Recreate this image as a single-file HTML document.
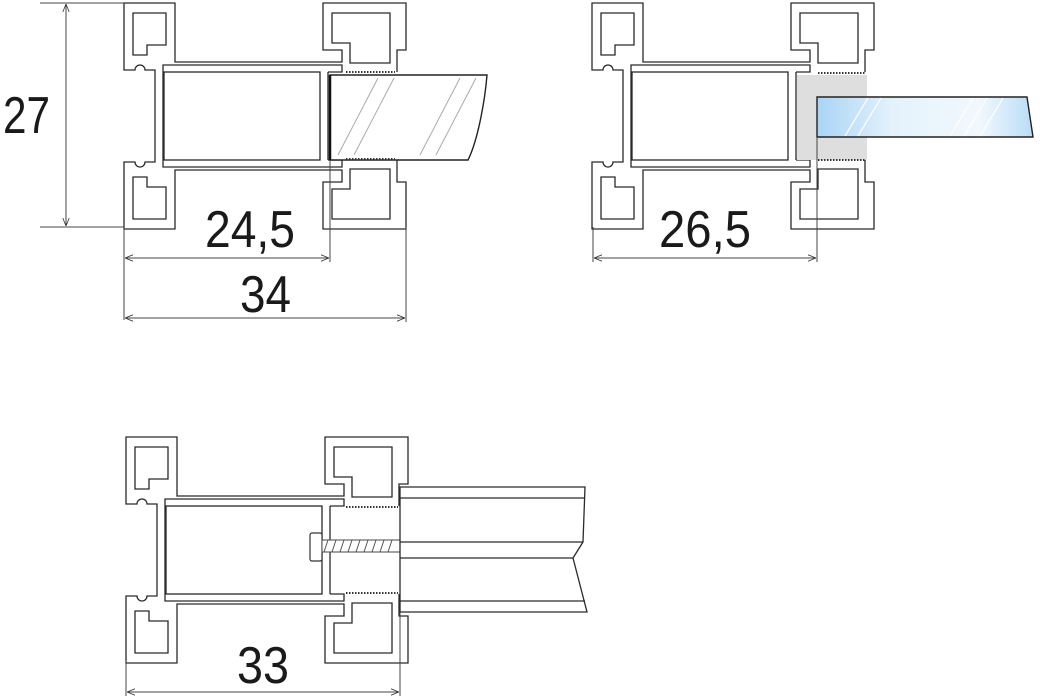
<!DOCTYPE html>
<html><head><meta charset="utf-8"><style>
html,body{margin:0;padding:0;background:#fff;}
svg{display:block;}
text{font-family:"Liberation Sans",sans-serif;fill:#1a1a1a;}
</style></head><body>
<svg width="1040" height="700" viewBox="0 0 1040 700" xmlns="http://www.w3.org/2000/svg">
<defs>
<linearGradient id="bg" x1="0" x2="1" y1="0" y2="0">
<stop offset="0" stop-color="#a9d4f5"/><stop offset="0.35" stop-color="#e4f2fc"/><stop offset="0.75" stop-color="#f2f8fd"/><stop offset="1" stop-color="#b9dcf6"/>
</linearGradient>
<g id="half" fill="none" stroke="#2a2a2a" stroke-width="1.3">
  <path d="M31,113 V67 H21 A5,5 0 0 0 11,67 H0 V0 H51 V59 H218 V47 H199 V0 H282 V47 H273 V69"/>
  <path d="M9,10 H42 V42 H23 V52 H9 Z"/>
  <path d="M208,10 H266 V60 H226 V40 H208 Z"/>
  <path d="M39,113 V62 H218 V69 H204"/>
  <path d="M51,16 v10 M199,16 v10" stroke-width="1"/>
</g>
<g id="prof">
  <use href="#half"/>
  <use href="#half" transform="matrix(1,0,0,-1,0,226)"/>
  <rect x="40" y="69" width="156" height="88" fill="none" stroke="#2a2a2a" stroke-width="1.3"/>
  <line x1="204" y1="69" x2="204" y2="157" stroke="#2a2a2a" stroke-width="1.3"/>
</g>
<marker id="ar" viewBox="0 0 10 10" refX="10" refY="5" markerWidth="8" markerHeight="8" orient="auto-start-reverse"><path d="M0,1 L10,5 L0,9" fill="none" stroke="#333" stroke-width="1"/></marker>
</defs>

<!-- Profile 1 -->
<use href="#prof" x="124" y="3"/>
<path d="M330,75 H487 C485,100 478,140 468,160 H330 Z" fill="#fff" stroke="#222" stroke-width="1.4"/>
<line x1="330" y1="75" x2="330" y2="160" stroke="#111" stroke-width="2.5"/>
<g stroke="#aaa" stroke-width="1">
<line x1="338" y1="155" x2="378" y2="78"/><line x1="354" y1="155" x2="394" y2="78"/>
<line x1="420" y1="155" x2="460" y2="78"/><line x1="436" y1="155" x2="476" y2="78"/>
</g>
<g stroke="#333" stroke-width="2" stroke-dasharray="1.5,1.5"><line x1="346" y1="72" x2="395" y2="72"/><line x1="346" y1="159" x2="395" y2="159"/></g>

<!-- Profile 2 -->
<use href="#prof" x="592" y="3"/>
<rect x="797" y="75" width="70" height="85" fill="#dedede"/>
<path d="M817,97 H1027 L1033,137 H817 Z" fill="url(#bg)" stroke="#222" stroke-width="1.4"/>
<g stroke="#fff" stroke-width="1.2">
<line x1="845" y1="136" x2="868" y2="98"/><line x1="858" y1="136" x2="881" y2="98"/>
<line x1="950" y1="136" x2="973" y2="98"/><line x1="964" y1="136" x2="987" y2="98"/><line x1="980" y1="136" x2="1003" y2="98"/>
</g>
<g stroke="#333" stroke-width="2" stroke-dasharray="1.5,1.5"><line x1="818" y1="73" x2="866" y2="73"/><line x1="818" y1="160" x2="866" y2="160"/></g>

<!-- Profile 3 -->
<use href="#prof" x="126" y="437"/>
<rect x="310" y="533" width="12" height="28" rx="2" fill="#fff" stroke="#333" stroke-width="1.2"/>
<rect x="322" y="540" width="78" height="12" fill="#fff" stroke="#444" stroke-width="1"/>
<path d="M324,552 l4,-12 M332,552 l4,-12 M340,552 l4,-12 M348,552 l4,-12 M356,552 l4,-12 M364,552 l4,-12 M372,552 l4,-12 M380,552 l4,-12 M388,552 l4,-12" stroke="#555" stroke-width="1"/>
<line x1="400" y1="541" x2="445" y2="541" stroke="#555" stroke-width="1.5" stroke-dasharray="3,2"/>
<g fill="none" stroke="#2a2a2a" stroke-width="1.3">
<path d="M400,487 H585 L583,542 L573,558 L587,612 H400 Z" fill="#fff"/>
<line x1="400" y1="498" x2="585" y2="498"/>
<line x1="400" y1="601" x2="585" y2="601"/>
<line x1="400" y1="542" x2="583" y2="542"/>
<line x1="400" y1="558" x2="573" y2="558"/>
</g>
<g stroke="#333" stroke-width="2" stroke-dasharray="1.5,1.5"><line x1="346" y1="507" x2="398" y2="507"/><line x1="346" y1="593" x2="398" y2="593"/></g>

<!-- Dimensions -->
<g stroke="#444" stroke-width="1" fill="none">
<line x1="40" y1="3" x2="124" y2="3"/><line x1="40" y1="227" x2="124" y2="227"/>
<line x1="66" y1="4" x2="66" y2="226" marker-start="url(#ar)" marker-end="url(#ar)"/>
<line x1="124" y1="227" x2="124" y2="320"/>
<line x1="330" y1="160" x2="330" y2="262"/>
<line x1="406" y1="227" x2="406" y2="322"/>
<line x1="125" y1="258" x2="329" y2="258" marker-start="url(#ar)" marker-end="url(#ar)"/>
<line x1="125" y1="318" x2="405" y2="318" marker-start="url(#ar)" marker-end="url(#ar)"/>
<line x1="593" y1="227" x2="593" y2="262"/>
<line x1="817" y1="137" x2="817" y2="262"/>
<line x1="594" y1="258" x2="816" y2="258" marker-start="url(#ar)" marker-end="url(#ar)"/>
<line x1="126" y1="660" x2="126" y2="696"/>
<line x1="400" y1="612" x2="400" y2="696"/>
<line x1="127" y1="692" x2="399" y2="692" marker-start="url(#ar)" marker-end="url(#ar)"/>
</g>
<text x="3" y="133" font-size="52" textLength="47" lengthAdjust="spacingAndGlyphs">27</text>
<text x="205" y="247" font-size="52" textLength="90" lengthAdjust="spacingAndGlyphs">24,5</text>
<text x="240" y="312" font-size="52" textLength="51" lengthAdjust="spacingAndGlyphs">34</text>
<text x="659" y="247" font-size="52" textLength="92" lengthAdjust="spacingAndGlyphs">26,5</text>
<text x="237" y="683" font-size="52" textLength="52" lengthAdjust="spacingAndGlyphs">33</text>
</svg>
</body></html>
